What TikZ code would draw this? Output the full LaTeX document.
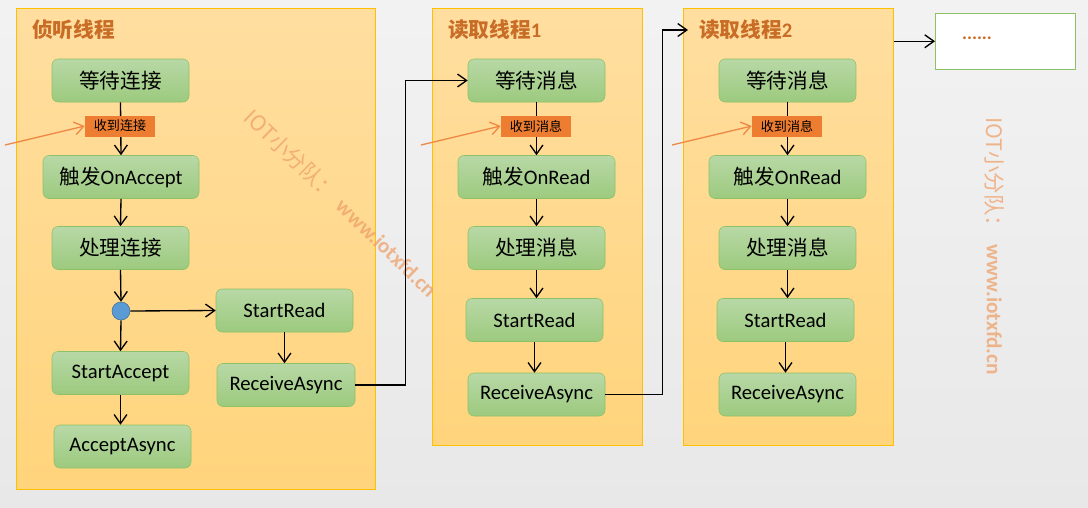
\documentclass[tikz,border=0pt]{standalone}
\usepackage{fontspec}
\setmainfont{Carlito}
\newfontfamily\cjk{Noto Sans CJK SC}
\newcommand{\zh}[1]{{\cjk #1}}
\definecolor{panelline}{RGB}{255,192,0}
\definecolor{paneltop}{RGB}{255,222,160}
\definecolor{panelbot}{RGB}{255,212,124}
\definecolor{greenline}{RGB}{140,193,104}
\definecolor{greentop}{RGB}{184,216,166}
\definecolor{greenbot}{RGB}{156,202,126}
\definecolor{tagorange}{RGB}{237,125,49}
\definecolor{titlebrown}{RGB}{200,108,38}
\definecolor{dotblue}{RGB}{91,155,213}
\definecolor{wmcolor}{RGB}{238,160,105}
\usetikzlibrary{arrows.meta,positioning,shadings}
\tikzset{
  lane/.style={draw=panelline, thin, top color=paneltop, bottom color=panelbot,
               inner sep=0pt, anchor=north west},
  act/.style={draw=greenline, rounded corners=4.5pt, top color=greentop, bottom color=greenbot,
              minimum width=102.75pt, minimum height=32.25pt, inner sep=1pt,
              font=\fontsize{15.5}{17}\selectfont},
  tag/.style={fill=tagorange, inner sep=0pt, minimum width=52.5pt, minimum height=15.75pt,
              font=\fontsize{9.8}{10}\selectfont},
  lanetitle/.style={anchor=west, text=titlebrown, inner sep=0pt,
                    font=\fontsize{15.5}{17}\selectfont\bfseries},
  wmark/.style={text=wmcolor, text opacity=0.75, inner sep=0pt, font=\fontsize{16}{18}\selectfont},
  flow/.style={-{Straight Barb[length=2.4mm,width=3.4mm]}, line width=1pt, black},
  hint/.style={-{Straight Barb[length=2.4mm,width=3.4mm]}, line width=1pt, tagorange!90!white},
}

\begin{document}
\begin{tikzpicture}[x=0.75pt,y=-0.75pt]
  \shade[top color=black!5, bottom color=black!9] (0,0) rectangle (1088,507);
  \useasboundingbox (0,0) rectangle (1088,507);
  % lanes
  \node[lane,minimum width=269.25pt,minimum height=360.75pt] (lane1) at (16,8) {};
  \node[lane,minimum width=157.5pt,minimum height=327.75pt] (lane2) at (432,8) {};
  \node[lane,minimum width=157.5pt,minimum height=327.75pt] (lane3) at (683,8) {};
  \node[draw=greenline,fill=white,minimum width=105pt,minimum height=42pt,anchor=north west] (more) at (935,13) {};
  \node[text=titlebrown,font=\fontsize{14}{14}\selectfont\bfseries] at (977,38) {......};
  \node[lanetitle] at (32,30) {\zh{侦听线程}};
  \node[lanetitle] at (448,30) {\zh{读取线程}1};
  \node[lanetitle] at (699,30) {\zh{读取线程}2};
  % watermarks
  \node[wmark,rotate=-44] at (341,203) {\zh{IOT小分队：}\hspace{6pt}\textbf{www.iotxfd.cn}};
  \node[wmark,rotate=-90] at (995,246) {\zh{IOT小分队：}\hspace{6pt}\textbf{www.iotxfd.cn}};
  % listening thread
  \node[act] (wait1) at (120.5,80.5) {\zh{等待连接}};
  \node[act,minimum width=117pt] (trig1) at (121,177) {\zh{触发}OnAccept};
  \node[act] (deal1) at (120.5,248) {\zh{处理连接}};
  \node[circle,fill=dotblue,draw=dotblue!70!black,thin,minimum size=13.5pt,inner sep=0pt] (fork) at (121,311) {};
  \node[act] (read1) at (284.5,310.5) {StartRead};
  \node[act] (acc1) at (120.5,373) {StartAccept};
  \node[act,minimum width=103.5pt] (recv1) at (286,385) {ReceiveAsync};
  \node[act] (async1) at (122.5,446.5) {AcceptAsync};
  % read thread 1
  \node[act] (wait2) at (536.5,80.5) {\zh{等待消息}};
  \node[act,minimum width=117.75pt] (trig2) at (536.5,177) {\zh{触发}OnRead};
  \node[act] (deal2) at (536.5,248) {\zh{处理消息}};
  \node[act] (read2) at (534.5,320) {StartRead};
  \node[act] (recv2) at (536.5,394.5) {ReceiveAsync};
  % read thread 2
  \node[act] (wait3) at (787.5,80.5) {\zh{等待消息}};
  \node[act,minimum width=117.75pt] (trig3) at (787.5,177) {\zh{触发}OnRead};
  \node[act] (deal3) at (787.5,248) {\zh{处理消息}};
  \node[act] (read3) at (785.5,320) {StartRead};
  \node[act] (recv3) at (787.5,394.5) {ReceiveAsync};
  % arrows
  \draw[flow] (wait1.south) -- (trig1.north);
  \draw[flow] (trig1.south) -- (deal1.north);
  \draw[flow] (deal1.south) -- (fork.north);
  \draw[flow] (fork.east) -- (read1.west);
  \draw[flow] (fork.south) -- (acc1.north);
  \draw[flow] (acc1.south) -- (acc1.south |- async1.north);
  \draw[flow] (read1.south) -- (read1.south |- recv1.north);
  \foreach \k in {2,3} {
    \draw[flow] (wait\k.south) -- (trig\k.north);
    \draw[flow] (trig\k.south) -- (deal\k.north);
    \draw[flow] (deal\k.south) -- (deal\k.south |- read\k.north);
    \draw[flow] (read\k.south) -- (read\k.south |- recv\k.north);
  }
  \coordinate (in3) at (688,30);
  \draw[flow] (recv1.east) -- ++(50,0) |- (wait2.west);
  \draw[flow] (recv2.east) -- ++(57,0) |- (in3);
  \draw[flow] (lane3.north east |- more.west) -- (more.west);
  % triggers
  \node[tag] (tag1) at (120,126) {\zh{收到连接}};
  \node[tag] (tag2) at (536,126) {\zh{收到消息}};
  \node[tag] (tag3) at (787,126) {\zh{收到消息}};
  \coordinate (src1) at (5,145);
  \coordinate (src2) at (421,145);
  \coordinate (src3) at (672,145);
  \foreach \k in {1,2,3} \draw[hint] (src\k) -- (tag\k.west);
\end{tikzpicture}
\end{document}
